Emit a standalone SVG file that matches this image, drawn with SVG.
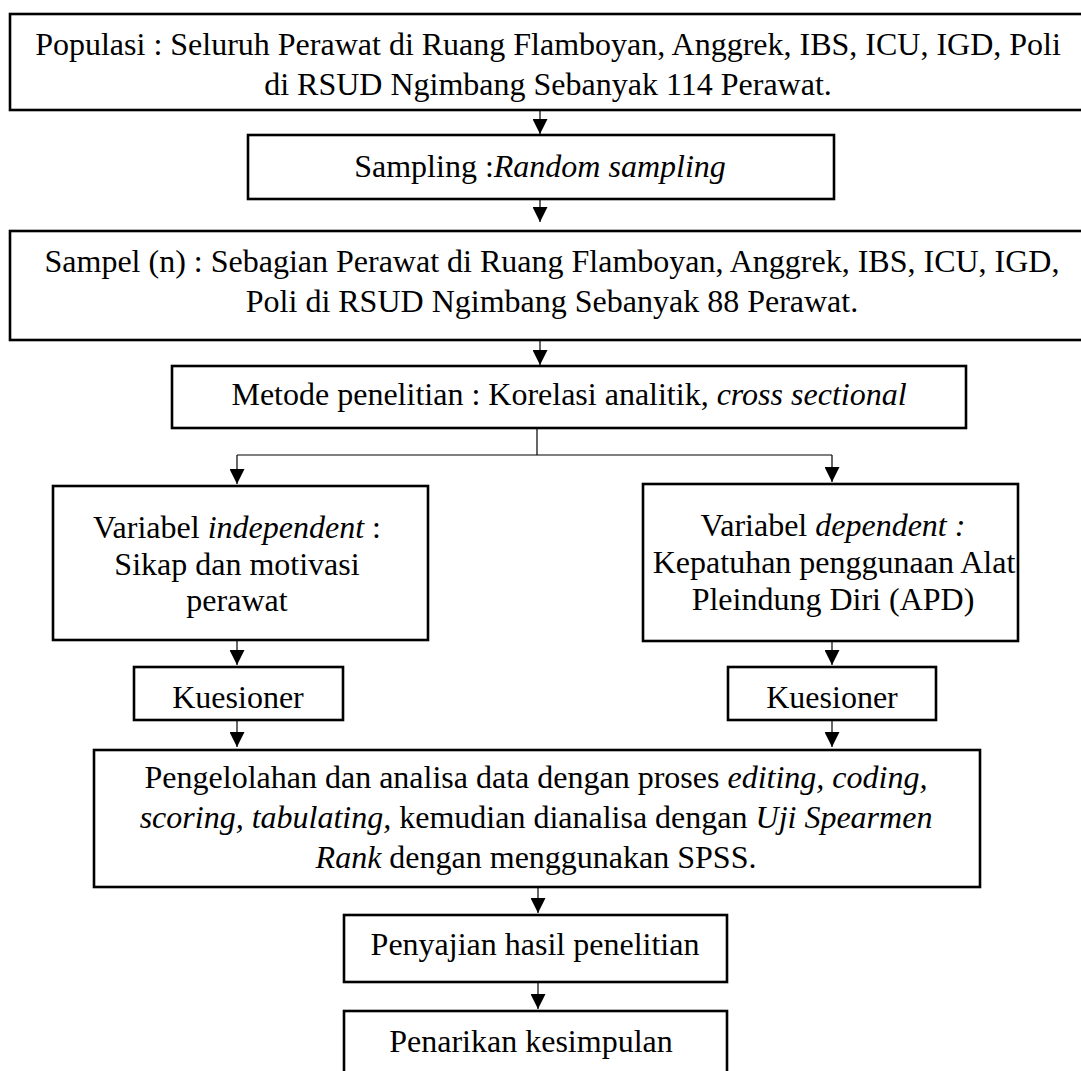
<svg xmlns="http://www.w3.org/2000/svg" width="1081" height="1071" viewBox="0 0 1081 1071">
<style>
.box{fill:#fff;stroke:#000;stroke-width:2.6}
.t{font-family:"Liberation Serif","Times New Roman",serif;font-size:32px;fill:#000;text-anchor:middle}
.i{font-style:italic}
.c{fill:none;stroke:#000;stroke-width:1.2}
</style>
<defs>
<marker id="ah" markerUnits="userSpaceOnUse" markerWidth="15" markerHeight="15" refX="14" refY="7" orient="auto" viewBox="0 0 14 14">
<path d="M0,0 L14,7 L0,14 z" fill="#000"/>
</marker>
</defs>
<rect width="1081" height="1071" fill="#fff"/>
<g id="connectors">
<line class="c" x1="540" y1="111" x2="540" y2="134" marker-end="url(#ah)"/>
<line class="c" x1="540" y1="199" x2="540" y2="222" marker-end="url(#ah)"/>
<line class="c" x1="540" y1="340" x2="540" y2="365" marker-end="url(#ah)"/>
<polyline class="c" points="537,428 537,455"/>
<polyline class="c" points="237,455 832,455"/>
<line class="c" x1="237" y1="455" x2="237" y2="484" marker-end="url(#ah)"/>
<line class="c" x1="832" y1="455" x2="832" y2="482" marker-end="url(#ah)"/>
<line class="c" x1="237" y1="640" x2="237" y2="665" marker-end="url(#ah)"/>
<line class="c" x1="832" y1="641" x2="832" y2="665" marker-end="url(#ah)"/>
<line class="c" x1="237" y1="720" x2="237" y2="747" marker-end="url(#ah)"/>
<line class="c" x1="832" y1="720" x2="832" y2="747" marker-end="url(#ah)"/>
<line class="c" x1="538" y1="887" x2="538" y2="913" marker-end="url(#ah)"/>
<line class="c" x1="538" y1="982" x2="538" y2="1009" marker-end="url(#ah)"/>
</g>
<g id="populasi">
<rect class="box" x="10" y="14" width="1090" height="96"/>
<text class="t" x="548" y="55">Populasi : Seluruh Perawat di Ruang Flamboyan, Anggrek, IBS, ICU, IGD, Poli</text>
<text class="t" x="548" y="95">di RSUD Ngimbang Sebanyak 114 Perawat.</text>
</g>
<g id="sampling">
<rect class="box" x="248" y="135" width="586" height="64"/>
<text class="t" x="540" y="177">Sampling :<tspan class="i">Random sampling</tspan></text>
</g>
<g id="sampel">
<rect class="box" x="10" y="231" width="1090" height="109"/>
<text class="t" x="552" y="272">Sampel (n) : Sebagian Perawat di Ruang Flamboyan, Anggrek, IBS, ICU, IGD,</text>
<text class="t" x="552" y="312">Poli di RSUD Ngimbang Sebanyak 88 Perawat.</text>
</g>
<g id="metode">
<rect class="box" x="172" y="366" width="794" height="62"/>
<text class="t" x="569" y="405">Metode penelitian : Korelasi analitik, <tspan class="i">cross sectional</tspan></text>
</g>
<g id="independent">
<rect class="box" x="53" y="486" width="375" height="154"/>
<text class="t" x="237" y="538">Variabel <tspan class="i">independent</tspan> :</text>
<text class="t" x="237" y="575">Sikap dan motivasi</text>
<text class="t" x="237" y="611">perawat</text>
</g>
<g id="dependent">
<rect class="box" x="643" y="484" width="375" height="157"/>
<text class="t" x="833" y="536">Variabel <tspan class="i">dependent :</tspan></text>
<text class="t" x="834" y="573">Kepatuhan penggunaan Alat</text>
<text class="t" x="833" y="610">Pleindung Diri (APD)</text>
</g>
<g id="kuesioner-left">
<rect class="box" x="134" y="667" width="209" height="53"/>
<text class="t" x="238" y="708">Kuesioner</text>
</g>
<g id="kuesioner-right">
<rect class="box" x="728" y="667" width="208" height="53"/>
<text class="t" x="832" y="708">Kuesioner</text>
</g>
<g id="pengolahan">
<rect class="box" x="94" y="750" width="886" height="137"/>
<text class="t" x="536" y="788">Pengelolahan dan analisa data dengan proses <tspan class="i">editing, coding,</tspan></text>
<text class="t" x="536" y="828"><tspan class="i">scoring, tabulating,</tspan> kemudian dianalisa dengan <tspan class="i">Uji Spearmen</tspan></text>
<text class="t" x="536" y="868"><tspan class="i">Rank</tspan> dengan menggunakan SPSS.</text>
</g>
<g id="penyajian">
<rect class="box" x="344" y="915" width="383" height="67"/>
<text class="t" x="535" y="955">Penyajian hasil penelitian</text>
</g>
<g id="penarikan">
<rect class="box" x="344" y="1011" width="383" height="80"/>
<text class="t" x="531" y="1052">Penarikan kesimpulan</text>
</g>
</svg>
